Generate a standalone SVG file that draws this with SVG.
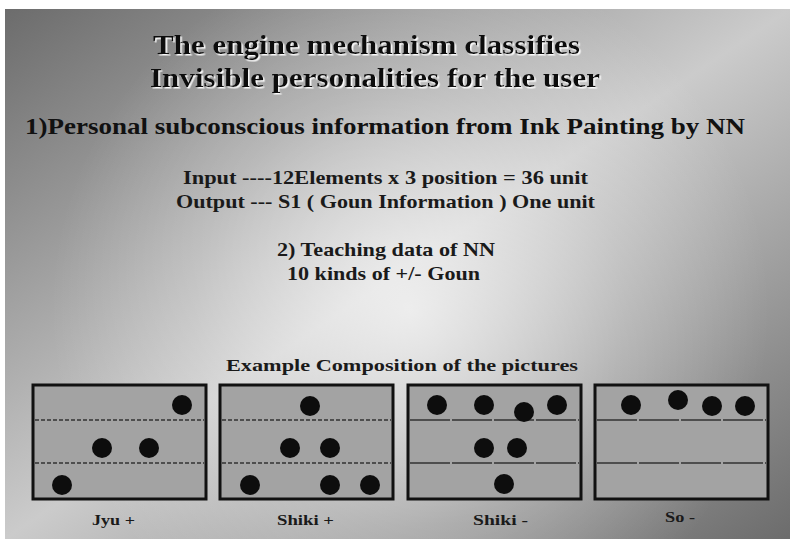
<svg xmlns="http://www.w3.org/2000/svg" width="792" height="541" viewBox="0 0 792 541">
  <defs>
    <linearGradient id="bgDiag" x1="0" y1="0" x2="1" y2="1">
      <stop offset="0" stop-color="#6c6c6c"/>
      <stop offset="0.5" stop-color="#cbcbcb"/>
      <stop offset="1" stop-color="#6c6c6c"/>
    </linearGradient>
    <radialGradient id="bgGlow" cx="410" cy="310" r="360" gradientUnits="userSpaceOnUse">
      <stop offset="0" stop-color="#ffffff" stop-opacity="0.7"/>
      <stop offset="0.6" stop-color="#ffffff" stop-opacity="0.22"/>
      <stop offset="1" stop-color="#ffffff" stop-opacity="0"/>
    </radialGradient>
    <!-- light edge under the heading letters -->
    <filter id="lightEdge" x="-5%" y="-30%" width="110%" height="160%">
      <feDropShadow dx="1.5" dy="1.5" stdDeviation="0.4" flood-color="#ffffff" flood-opacity="0.95"/>
    </filter>
  </defs>
  <style>
    text { font-family: "Liberation Serif", "Times New Roman", serif; font-weight: bold; }
    .title { font-size: 28px; fill: #111111; filter: url(#lightEdge); }
    .head { font-size: 23px; fill: #111111; }
    .body { font-size: 19px; fill: #1a1a1a; }
    .sub { font-size: 17px; fill: #1a1a1a; }
    .caption { font-size: 15px; fill: #1a1a1a; }
    .frame { fill: #a3a3a3; stroke: #111111; stroke-width: 3; }
    .guide { stroke: #333333; stroke-width: 1.5; stroke-dasharray: 4 2; }
    .guide-long { stroke: #333333; stroke-width: 1.5; stroke-dasharray: 40 2; }
    .dot { fill: #0d0d0d; }
  </style>

  <!-- page background -->
  <rect x="0" y="0" width="792" height="541" fill="#ffffff"/>
  <rect x="5" y="9" width="785" height="530" fill="url(#bgDiag)"/>
  <rect x="5" y="9" width="785" height="530" fill="url(#bgGlow)"/>

  <!-- heading -->
  <g id="title">
    <text class="title" x="153" y="54" textLength="427" lengthAdjust="spacingAndGlyphs">The engine mechanism classifies</text>
    <text class="title" x="150" y="87" textLength="450" lengthAdjust="spacingAndGlyphs">Invisible personalities for the user</text>
  </g>

  <g id="section1">
    <text class="head" x="25" y="134" textLength="720" lengthAdjust="spacingAndGlyphs">1)Personal subconscious  information from Ink Painting by NN</text>
    <text class="body" x="183" y="184" textLength="405" lengthAdjust="spacingAndGlyphs">Input ----12Elements x  3 position = 36 unit</text>
    <text class="body" x="176" y="208" textLength="419" lengthAdjust="spacingAndGlyphs">Output --- S1 ( Goun Information ) One unit</text>
  </g>

  <g id="section2">
    <text class="body" x="277" y="256" textLength="218" lengthAdjust="spacingAndGlyphs">2) Teaching data of NN</text>
    <text class="body" x="287" y="280" textLength="193" lengthAdjust="spacingAndGlyphs">10 kinds of +/- Goun</text>
  </g>

  <text class="sub" x="226" y="371" textLength="352" lengthAdjust="spacingAndGlyphs">Example Composition of the pictures</text>

  <!-- composition panels -->
  <g id="panel-jyu-plus">
    <rect class="frame" x="33" y="385" width="173" height="114"/>
    <line class="guide" x1="35" y1="420" x2="204" y2="420"/>
    <line class="guide" x1="35" y1="463" x2="204" y2="463"/>
    <circle class="dot" cx="182" cy="405" r="10"/>
    <circle class="dot" cx="102" cy="448" r="10"/>
    <circle class="dot" cx="149" cy="448" r="10"/>
    <circle class="dot" cx="62" cy="485" r="10"/>
    <text class="caption" x="92" y="525" textLength="43" lengthAdjust="spacingAndGlyphs">Jyu +</text>
  </g>

  <g id="panel-shiki-plus">
    <rect class="frame" x="220" y="385" width="173" height="114"/>
    <line class="guide" x1="222" y1="420" x2="391" y2="420"/>
    <line class="guide" x1="222" y1="463" x2="391" y2="463"/>
    <circle class="dot" cx="310" cy="406" r="10"/>
    <circle class="dot" cx="290" cy="448" r="10"/>
    <circle class="dot" cx="330" cy="448" r="10"/>
    <circle class="dot" cx="250" cy="485" r="10"/>
    <circle class="dot" cx="330" cy="485" r="10"/>
    <circle class="dot" cx="370" cy="485" r="10"/>
    <text class="caption" x="277" y="525" textLength="57" lengthAdjust="spacingAndGlyphs">Shiki +</text>
  </g>

  <g id="panel-shiki-minus">
    <rect class="frame" x="408" y="385" width="173" height="114"/>
    <line class="guide-long" x1="410" y1="420" x2="579" y2="420"/>
    <line class="guide-long" x1="410" y1="463" x2="579" y2="463"/>
    <circle class="dot" cx="437" cy="405" r="10"/>
    <circle class="dot" cx="484" cy="405" r="10"/>
    <circle class="dot" cx="524" cy="412" r="10"/>
    <circle class="dot" cx="557" cy="405" r="10"/>
    <circle class="dot" cx="484" cy="448" r="10"/>
    <circle class="dot" cx="517" cy="448" r="10"/>
    <circle class="dot" cx="504" cy="484" r="10"/>
    <text class="caption" x="473" y="525" textLength="55" lengthAdjust="spacingAndGlyphs">Shiki -</text>
  </g>

  <g id="panel-so-minus">
    <rect class="frame" x="595" y="385" width="173" height="114"/>
    <line class="guide-long" x1="597" y1="420" x2="766" y2="420"/>
    <line class="guide-long" x1="597" y1="463" x2="766" y2="463"/>
    <circle class="dot" cx="631" cy="405" r="10"/>
    <circle class="dot" cx="678" cy="400" r="10"/>
    <circle class="dot" cx="712" cy="406" r="10"/>
    <circle class="dot" cx="745" cy="406" r="10"/>
    <text class="caption" x="665" y="522" textLength="30" lengthAdjust="spacingAndGlyphs">So -</text>
  </g>
</svg>
